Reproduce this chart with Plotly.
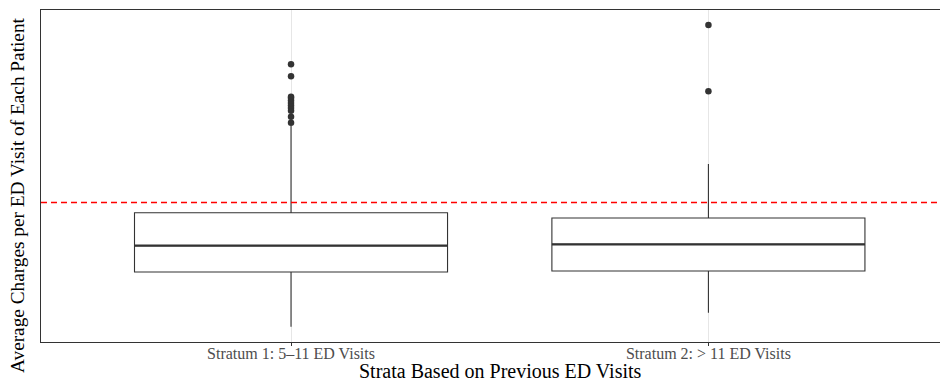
import plotly.graph_objects as go

# ---- data (y axis is unlabelled) ----
strata = ["Stratum 1: 5\u201311 ED Visits", "Stratum 2: > 11 ED Visits"]
positions = [0, 1]
lower_whisker = [153, 293]
q1 = [700, 710]
median = [963, 977]
q3 = [1293, 1240]
upper_whisker = [2160, 1780]
outliers_s1 = [2193, 2253, 2313, 2340, 2365, 2390, 2415, 2440, 2453, 2657, 2777]
outliers_s2 = [2507, 3170]
reference_line = 1395
box_width = 0.75

x_title = "Strata Based on Previous ED Visits"
y_title = "Average Charges per ED Visit of Each Patient"

DARK = "#333333"
SERIF = "Liberation Serif, Times New Roman, serif"

fig = go.Figure()

for i, pos in enumerate(positions):
    fig.add_trace(go.Box(
        x=[pos], q1=[q1[i]], median=[median[i]], q3=[q3[i]],
        lowerfence=[lower_whisker[i]], upperfence=[upper_whisker[i]],
        width=box_width, fillcolor="white", whiskerwidth=0,
        line=dict(color=DARK, width=1.1), boxpoints=False,
        hoverinfo="skip", showlegend=False,
    ))
    # thicker median line (ggplot style)
    fig.add_trace(go.Scatter(
        x=[pos - box_width / 2, pos + box_width / 2], y=[median[i], median[i]],
        mode="lines", line=dict(color=DARK, width=2.3),
        hoverinfo="skip", showlegend=False,
    ))

for pos, pts in zip(positions, [outliers_s1, outliers_s2]):
    fig.add_trace(go.Scatter(
        x=[pos] * len(pts), y=pts, mode="markers",
        marker=dict(color=DARK, size=6.5),
        hoverinfo="skip", showlegend=False,
    ))

fig.add_shape(type="line", xref="paper", x0=0, x1=1, yref="y",
              y0=reference_line, y1=reference_line,
              line=dict(color="red", width=1.3, dash="6px,4px"))

# The page body has an 8px margin, so the figure is 940x373 and offset by 8px.
fig.update_layout(
    width=940, height=373,
    margin=dict(l=33, r=0, t=2, b=39),
    plot_bgcolor="white", paper_bgcolor="white",
    showlegend=False,
    xaxis=dict(
        range=[-0.599, 1.574], tickmode="array", tickvals=positions, ticktext=strata,
        showgrid=True, gridcolor="#e6e6e6", gridwidth=1, zeroline=False,
        showline=True, linecolor=DARK, linewidth=1, mirror=True,
        ticks="outside", ticklen=3, tickcolor=DARK, tickwidth=1,
        ticklabelstandoff=-6,
        tickfont=dict(family=SERIF, size=16, color="#4d4d4d"),
    ),
    yaxis=dict(
        range=[0, 3320], showticklabels=False, showgrid=False, zeroline=False,
        showline=True, linecolor=DARK, linewidth=1, ticks="",
    ),
    annotations=[
        dict(text=x_title, xref="paper", yref="paper",
             x=(500 - 41) / 907, y=(342 - 370.5) / 332,
             xanchor="center", yanchor="middle", showarrow=False,
             font=dict(family=SERIF, size=20, color="black")),
        dict(text=y_title, xref="paper", yref="paper",
             x=(17 - 41) / 907, y=(342 - 195) / 332, textangle=-90,
             xanchor="center", yanchor="middle", showarrow=False,
             font=dict(family=SERIF, size=19.3, color="black")),
    ],
)

fig.write_html("out.html")
